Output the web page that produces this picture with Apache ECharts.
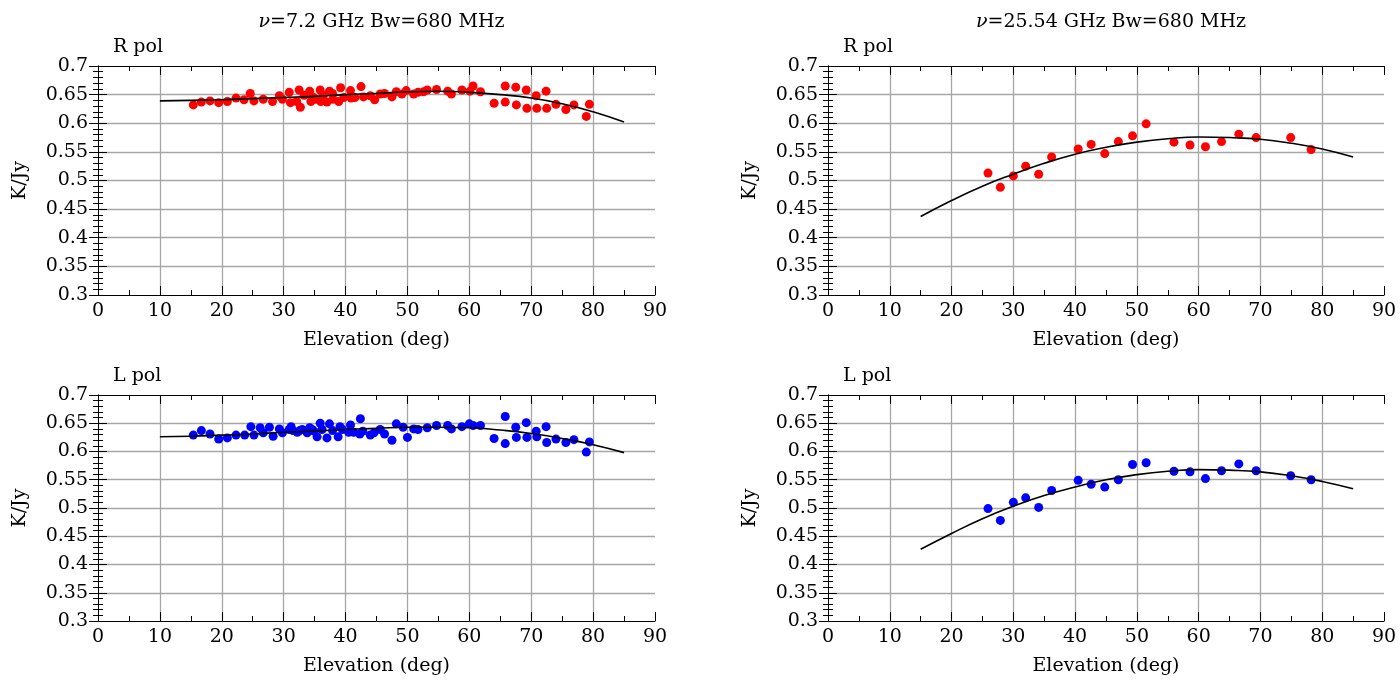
<!DOCTYPE html>
<html><head><meta charset="utf-8">
<script src="https://cdn.jsdelivr.net/npm/echarts@6/dist/echarts.min.js"></script>
<style>html,body{margin:0;padding:0;background:#fff}#c{width:1400px;height:680px}</style>
</head><body><div id="c"></div>
<script>
// ---------- data ----------
const titles = ['7.2 GHz Bw=680 MHz', '25.54 GHz Bw=680 MHz'];
const polLabels = ['R pol', 'L pol'];
const xTickLabels = [0,10,20,30,40,50,60,70,80,90];
const yTickLabels = [0.3,0.35,0.4,0.45,0.5,0.55,0.6,0.65,0.7];

// 7.2 GHz, R pol
const elevR7 = [15.4,16.7,18.1,19.5,20.9,22.3,23.6,24.6,25.2,26.7,28.2,29.3,29.8,30.9,31.1,32.1,32.5,32.7,33.3,34.2,34.4,34.7,35.2,35.9,36.0,36.4,37.0,37.4,37.9,38.0,38.9,39.2,39.7,40.8,40.9,41.5,42.5,42.9,44.0,44.7,45.6,46.3,47.5,48.2,49.1,49.8,51.0,51.7,52.6,53.2,54.7,56.5,57.1,58.8,60.1,60.6,61.8,64.0,65.8,65.8,67.5,67.6,69.2,69.3,70.8,70.9,72.4,72.5,74.0,75.6,76.9,78.9,79.4];
const gainR7 = [0.632,0.637,0.639,0.636,0.638,0.644,0.641,0.652,0.639,0.642,0.638,0.648,0.642,0.654,0.636,0.638,0.658,0.628,0.649,0.656,0.638,0.646,0.642,0.658,0.638,0.649,0.637,0.656,0.652,0.642,0.638,0.662,0.645,0.657,0.644,0.645,0.664,0.646,0.648,0.641,0.651,0.652,0.646,0.655,0.651,0.657,0.651,0.654,0.655,0.658,0.659,0.656,0.651,0.658,0.656,0.665,0.655,0.635,0.665,0.637,0.663,0.632,0.658,0.626,0.648,0.626,0.656,0.626,0.633,0.624,0.632,0.612,0.633];

// 7.2 GHz, L pol
const elevL7 = [15.4,16.7,18.1,19.5,20.9,22.3,23.7,24.7,25.2,26.2,26.7,27.7,28.3,29.3,29.8,30.9,31.2,31.5,32.2,32.6,33.0,33.8,34.2,34.6,34.9,35.4,35.9,36.2,37.0,37.4,37.9,38.8,39.1,39.5,40.5,40.8,41.3,42.4,42.3,42.8,44.0,44.6,45.6,46.3,47.5,48.2,49.3,50.0,51.0,51.7,53.2,54.7,56.5,57.1,58.8,60.0,60.6,61.8,64.0,65.8,65.8,67.5,67.6,69.2,69.3,70.8,70.9,72.4,72.5,74.0,75.6,76.9,78.9,79.4];
const gainL7 = [0.629,0.637,0.631,0.622,0.624,0.629,0.629,0.644,0.629,0.642,0.633,0.643,0.627,0.640,0.633,0.639,0.644,0.637,0.634,0.637,0.639,0.633,0.642,0.639,0.636,0.626,0.650,0.639,0.624,0.649,0.637,0.626,0.644,0.639,0.634,0.647,0.634,0.658,0.631,0.636,0.629,0.633,0.639,0.631,0.620,0.649,0.643,0.625,0.640,0.639,0.642,0.646,0.646,0.640,0.644,0.649,0.646,0.646,0.623,0.662,0.614,0.643,0.625,0.651,0.625,0.636,0.626,0.644,0.616,0.622,0.616,0.621,0.599,0.617];

// 25.54 GHz (same elevations for both polarisations)
const elev25 = [25.9,27.9,30.0,32.0,34.1,36.2,40.5,42.6,44.8,47.0,49.3,51.5,56.0,58.6,61.1,63.7,66.5,69.3,74.9,78.2];
const gainR25 = [0.513,0.488,0.508,0.525,0.511,0.541,0.555,0.563,0.547,0.568,0.578,0.599,0.567,0.562,0.559,0.568,0.581,0.575,0.575,0.554];
const gainL25 = [0.499,0.478,0.510,0.518,0.501,0.531,0.549,0.542,0.537,0.550,0.577,0.580,0.565,0.564,0.552,0.566,0.578,0.566,0.557,0.550];

// fitted curves
const fitElev7 = [10,15,20,25,30,35,40,45,50,55,60,65,70,75,80,85];
const fitR7 = [0.639,0.640,0.641,0.643,0.645,0.647,0.650,0.652,0.655,0.656,0.654,0.650,0.644,0.634,0.620,0.602];
const fitL7 = [0.626,0.627,0.629,0.631,0.634,0.636,0.639,0.641,0.643,0.643,0.642,0.638,0.632,0.623,0.612,0.598];
const fitElev25 = [15,20,25,30,35,40,45,50,55,60,65,70,75,80,85];
const fitR25 = [0.437,0.465,0.490,0.511,0.530,0.546,0.558,0.567,0.573,0.576,0.575,0.572,0.565,0.555,0.541];
const fitL25 = [0.427,0.455,0.481,0.503,0.522,0.537,0.550,0.559,0.565,0.568,0.567,0.564,0.557,0.547,0.534];

// ---------- chart ----------
const FONT = 'DejaVu Serif';
const FS = 19;
const zip = (a, b) => a.map((v, i) => [v, b[i]]);
const grids = [
  {left: 98, top: 66, width: 557, height: 229},
  {left: 828, top: 66, width: 556, height: 229},
  {left: 98, top: 395, width: 557, height: 226},
  {left: 828, top: 395, width: 556, height: 226}
];
const panels = [
  {pts: zip(elevR7, gainR7), fit: zip(fitElev7, fitR7), color: '#ff0000', pol: polLabels[0]},
  {pts: zip(elev25, gainR25), fit: zip(fitElev25, fitR25), color: '#ff0000', pol: polLabels[0]},
  {pts: zip(elevL7, gainL7), fit: zip(fitElev7, fitL7), color: '#0000ff', pol: polLabels[1]},
  {pts: zip(elev25, gainL25), fit: zip(fitElev25, fitL25), color: '#0000ff', pol: polLabels[1]}
];
const fmtY = v => String(Math.round(v * 100) / 100);
const lineBlack = {show: true, lineStyle: {color: '#000', width: 1}};
const xAxes = [], yAxes = [], series = [], titleArr = [];
grids.forEach((g, i) => {
  const base = {type: 'value', gridIndex: i, min: xTickLabels[0], max: xTickLabels[xTickLabels.length-1], interval: 10};
  xAxes.push(Object.assign({}, base, {
    position: 'bottom', axisLine: lineBlack,
    axisTick: {show: true, inside: true, length: 9, lineStyle: {color: '#000'}},
    minorTick: {show: true, splitNumber: 2, length: 5, lineStyle: {color: '#000'}},
    axisLabel: {show: true, color: '#000', fontFamily: FONT, fontSize: FS, margin: 7},
    splitLine: {show: true, showMinLine: false, showMaxLine: false, lineStyle: {color: '#a6a6a6', width: 1.3}},
    name: 'Elevation (deg)', nameLocation: 'middle', nameGap: 36,
    nameTextStyle: {color: '#000', fontFamily: FONT, fontSize: FS}
  }));
  xAxes.push(Object.assign({}, base, {
    position: 'top', axisLine: lineBlack,
    axisTick: {show: true, inside: true, length: 9, lineStyle: {color: '#000'}},
    minorTick: {show: true, splitNumber: 2, length: 5, lineStyle: {color: '#000'}},
    axisLabel: {show: false}, splitLine: {show: false}
  }));
  const ybase = {type: 'value', gridIndex: i, min: yTickLabels[0], max: yTickLabels[yTickLabels.length-1], interval: 0.05};
  yAxes.push(Object.assign({}, ybase, {
    position: 'left', axisLine: lineBlack,
    axisTick: {show: true, inside: true, length: 9, lineStyle: {color: '#000'}},
    minorTick: {show: true, splitNumber: 5, length: 5, lineStyle: {color: '#000'}},
    axisLabel: {show: true, color: '#000', fontFamily: FONT, fontSize: FS, margin: 10, formatter: fmtY},
    splitLine: {show: true, showMinLine: false, showMaxLine: false, lineStyle: {color: '#a6a6a6', width: 1.3}},
    name: 'K/Jy', nameLocation: 'middle', nameGap: 68, nameRotate: 90,
    nameTextStyle: {color: '#000', fontFamily: FONT, fontSize: FS}
  }));
  yAxes.push(Object.assign({}, ybase, {
    position: 'right', axisLine: lineBlack,
    axisTick: {show: true, inside: true, length: 9, lineStyle: {color: '#000'}},
    minorTick: {show: true, splitNumber: 5, length: 5, lineStyle: {color: '#000'}},
    axisLabel: {show: false}, splitLine: {show: false}
  }));
  const p = panels[i];
  series.push({
    type: 'scatter', xAxisIndex: 2*i, yAxisIndex: 2*i, data: p.pts,
    symbol: 'circle', symbolSize: 9, itemStyle: {color: p.color, opacity: 1}, z: 3, silent: true
  });
  series.push({
    type: 'line', xAxisIndex: 2*i, yAxisIndex: 2*i, data: p.fit, smooth: true,
    showSymbol: false, lineStyle: {color: '#000', width: 1.6}, z: 4, silent: true
  });
  titleArr.push({
    text: p.pol, left: g.left + 10, top: g.top - 33,
    textStyle: {color: '#000', fontFamily: FONT, fontSize: FS, fontWeight: 'normal'}
  });
});
[0, 1].forEach(k => {
  const g = grids[k];
  titleArr.push({
    text: '{i|ν}=' + titles[k], left: g.left + g.width / 2, top: 8, textAlign: 'center',
    textStyle: {color: '#000', fontFamily: FONT, fontSize: FS, fontWeight: 'normal',
      rich: {i: {fontFamily: FONT, fontSize: FS, fontStyle: 'italic', color: '#000'}}}
  });
});
const chart = echarts.init(document.getElementById('c'), null, {renderer: 'canvas'});
chart.setOption({
  animation: false, backgroundColor: '#fff',
  title: titleArr, grid: grids, xAxis: xAxes, yAxis: yAxes, series: series
});
</script></body></html>
